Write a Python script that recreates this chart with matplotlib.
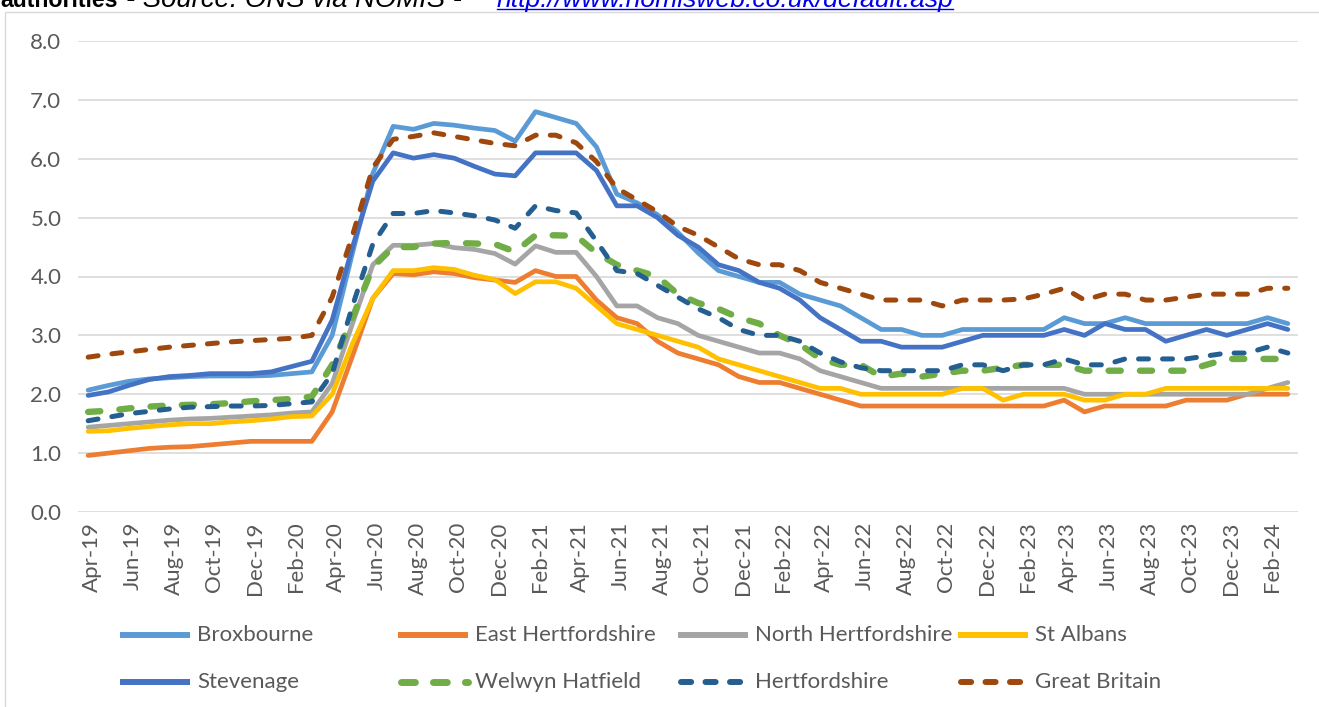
import matplotlib
matplotlib.use("Agg")
import matplotlib.pyplot as plt
import matplotlib.transforms as mtransforms
from matplotlib.lines import Line2D
from matplotlib.patches import Rectangle
import numpy as np
import pandas as pd

plt.rcParams['font.family'] = ['Lato', 'DejaVu Sans']

months = list(pd.date_range('2019-04-01', periods=60, freq='MS').strftime('%b-%y'))

broxbourne = [2.07, 2.15, 2.22, 2.26, 2.28, 2.30, 2.31, 2.31, 2.31, 2.32, 2.35, 2.38,
              3.00, 4.40, 5.75, 6.55, 6.50, 6.60, 6.57, 6.52, 6.48, 6.30, 6.80, 6.70,
              6.60, 6.20, 5.40, 5.25, 5.05, 4.75, 4.40, 4.10, 4.00, 3.90, 3.90, 3.70,
              3.60, 3.50, 3.30, 3.10, 3.10, 3.00, 3.00, 3.10, 3.10, 3.10, 3.10, 3.10,
              3.30, 3.20, 3.20, 3.30, 3.20, 3.20, 3.20, 3.20, 3.20, 3.20, 3.30, 3.20]
east_herts = [0.96, 1.00, 1.04, 1.08, 1.10, 1.11, 1.14, 1.17, 1.20, 1.20, 1.20, 1.20,
              1.70, 2.65, 3.63, 4.05, 4.03, 4.08, 4.05, 3.98, 3.94, 3.90, 4.10, 4.00,
              4.00, 3.60, 3.30, 3.20, 2.90, 2.70, 2.60, 2.50, 2.30, 2.20, 2.20, 2.10,
              2.00, 1.90, 1.80, 1.80, 1.80, 1.80, 1.80, 1.80, 1.80, 1.80, 1.80, 1.80,
              1.90, 1.70, 1.80, 1.80, 1.80, 1.80, 1.90, 1.90, 1.90, 2.00, 2.00, 2.00]
north_herts = [1.44, 1.47, 1.50, 1.53, 1.56, 1.58, 1.59, 1.61, 1.63, 1.65, 1.68, 1.70,
               2.18, 3.20, 4.20, 4.53, 4.53, 4.56, 4.49, 4.46, 4.39, 4.21, 4.52, 4.41,
               4.41, 4.00, 3.50, 3.50, 3.30, 3.20, 3.00, 2.90, 2.80, 2.70, 2.70, 2.60,
               2.40, 2.30, 2.20, 2.10, 2.10, 2.10, 2.10, 2.10, 2.10, 2.10, 2.10, 2.10,
               2.10, 2.00, 2.00, 2.00, 2.00, 2.00, 2.00, 2.00, 2.00, 2.00, 2.10, 2.20]
st_albans = [1.37, 1.38, 1.42, 1.45, 1.48, 1.50, 1.50, 1.53, 1.55, 1.58, 1.62, 1.63,
             2.00, 2.86, 3.63, 4.10, 4.10, 4.15, 4.12, 4.02, 3.95, 3.71, 3.91, 3.91,
             3.80, 3.50, 3.20, 3.10, 3.00, 2.90, 2.80, 2.60, 2.50, 2.40, 2.30, 2.20,
             2.10, 2.10, 2.00, 2.00, 2.00, 2.00, 2.00, 2.10, 2.10, 1.90, 2.00, 2.00,
             2.00, 1.90, 1.90, 2.00, 2.00, 2.10, 2.10, 2.10, 2.10, 2.10, 2.10, 2.10]
stevenage = [1.98, 2.04, 2.15, 2.25, 2.30, 2.32, 2.35, 2.35, 2.35, 2.38, 2.47, 2.56,
             3.26, 4.50, 5.62, 6.10, 6.01, 6.07, 6.01, 5.87, 5.74, 5.71, 6.10, 6.10,
             6.10, 5.80, 5.20, 5.20, 5.00, 4.70, 4.50, 4.20, 4.10, 3.90, 3.80, 3.60,
             3.30, 3.10, 2.90, 2.90, 2.80, 2.80, 2.80, 2.90, 3.00, 3.00, 3.00, 3.00,
             3.10, 3.00, 3.20, 3.10, 3.10, 2.90, 3.00, 3.10, 3.00, 3.10, 3.20, 3.10]
welwyn = [1.70, 1.72, 1.76, 1.79, 1.81, 1.82, 1.83, 1.85, 1.88, 1.90, 1.92, 1.96,
          2.50, 3.30, 4.16, 4.50, 4.50, 4.56, 4.57, 4.56, 4.55, 4.42, 4.70, 4.70,
          4.69, 4.40, 4.20, 4.10, 4.00, 3.70, 3.55, 3.45, 3.30, 3.20, 3.00, 2.85,
          2.60, 2.50, 2.50, 2.30, 2.35, 2.30, 2.35, 2.40, 2.40, 2.45, 2.50, 2.50,
          2.50, 2.40, 2.40, 2.40, 2.40, 2.40, 2.40, 2.50, 2.60, 2.60, 2.60, 2.60]
hertfordshire = [1.55, 1.61, 1.67, 1.71, 1.75, 1.78, 1.79, 1.80, 1.80, 1.81, 1.84, 1.87,
                 2.35, 3.50, 4.55, 5.07, 5.07, 5.12, 5.08, 5.03, 4.96, 4.82, 5.20, 5.12,
                 5.08, 4.60, 4.10, 4.05, 3.85, 3.65, 3.45, 3.30, 3.10, 3.00, 3.00, 2.90,
                 2.70, 2.55, 2.45, 2.40, 2.40, 2.40, 2.40, 2.50, 2.50, 2.40, 2.50, 2.50,
                 2.60, 2.50, 2.50, 2.60, 2.60, 2.60, 2.60, 2.65, 2.70, 2.70, 2.80, 2.70]
great_britain = [2.63, 2.68, 2.72, 2.76, 2.80, 2.83, 2.86, 2.89, 2.91, 2.93, 2.95, 3.00,
                 3.65, 4.70, 5.85, 6.33, 6.38, 6.44, 6.38, 6.32, 6.26, 6.22, 6.40, 6.40,
                 6.27, 5.95, 5.50, 5.30, 5.10, 4.85, 4.70, 4.50, 4.30, 4.20, 4.20, 4.10,
                 3.90, 3.80, 3.70, 3.60, 3.60, 3.60, 3.50, 3.60, 3.60, 3.60, 3.62, 3.70,
                 3.80, 3.60, 3.70, 3.70, 3.60, 3.60, 3.65, 3.70, 3.70, 3.70, 3.80, 3.80]

series_names = ['Broxbourne', 'East Hertfordshire', 'North Hertfordshire', 'St Albans',
                'Stevenage', 'Welwyn Hatfield', 'Hertfordshire', 'Great Britain']
series_values = [broxbourne, east_herts, north_herts, st_albans,
                 stevenage, welwyn, hertfordshire, great_britain]
colors = ['#5B9BD5', '#ED7D31', '#A5A5A5', '#FFC000',
          '#4472C4', '#70AD47', '#255E91', '#9E480E']
# (linewidth pt, dashes or None)
styles = [(3.4, None), (3.4, None), (3.4, None), (3.4, None),
          (3.4, None), (4.6, (1.9, 3.0)), (3.6, (2.0, 2.8)), (3.6, (2.0, 2.8))]
# legend sample styles
leg_styles = [(4.3, None), (4.3, None), (4.3, None), (4.3, None),
              (4.3, None), (5.0, (2.0, 2.6)), (4.3, (1.7, 2.4)), (4.3, (1.7, 2.4))]

W, H = 1319, 707
FS = 16
TXT = '#595959'
fig = plt.figure(figsize=(W / 100, H / 100), dpi=100)

# chart border
fig.patches.append(Rectangle((5 / W, -0.2), 2.0, (H - 12) / H + 0.2, transform=fig.transFigure,
                             fill=False, edgecolor='#D9D9D9', linewidth=1.0))

x0, x1, y0, y1 = 78, 1298, 512, 41
ax = fig.add_axes([x0 / W, (H - y0) / H, (x1 - x0) / W, (y0 - y1) / H])
ax.set_facecolor('none')
x = np.arange(len(months))
for vals, c, (lw, dash) in zip(series_values, colors, styles):
    if dash is None:
        ax.plot(x, vals, color=c, lw=lw, solid_capstyle='round', solid_joinstyle='round')
    else:
        ax.plot(x, vals, color=c, lw=lw, dashes=dash, dash_capstyle='round',
                dash_joinstyle='round')

ax.set_xlim(-0.5, len(months) - 0.5)
ax.set_ylim(0, 8)
yt = np.arange(0, 8.01, 1.0)
ax.set_yticks(yt)
ax.set_yticklabels([f'{v:.1f}' for v in yt])
ax.set_xticks(x[::2])
ax.set_xticklabels(months[::2], rotation=90)
ax.grid(axis='y', color='#D9D9D9', linewidth=1.2)
ax.set_axisbelow(True)
for s in ax.spines.values():
    s.set_visible(False)
ax.tick_params(axis='both', length=0, colors=TXT, labelsize=FS)
ax.tick_params(axis='x', pad=7)
ax.tick_params(axis='y', pad=12)
shift = mtransforms.ScaledTranslation(4 / 100, 0, fig.dpi_scale_trans)
for lab in ax.get_xticklabels():
    lab.set_transform(lab.get_transform() + shift)

# legend (manual, equal column spacing like Excel)
leg_cols = [120, 398, 678, 958]
leg_rows = [635, 682]
for k, (name, c, (lw, dash)) in enumerate(zip(series_names, colors, leg_styles)):
    r, col = divmod(k, 4)
    xs = leg_cols[col]
    yy = 1 - leg_rows[r] / H
    if dash is None:
        ln = Line2D([xs / W, (xs + 70) / W], [yy, yy], transform=fig.transFigure, color=c,
                    lw=lw, solid_capstyle='butt')
    else:
        ln = Line2D([(xs + 3) / W, (xs + 70) / W], [yy, yy], transform=fig.transFigure,
                    color=c, lw=lw, dashes=dash, dash_capstyle='round')
    fig.add_artist(ln)
    fig.text((xs + 77) / W, yy, name, fontsize=FS, color=TXT, va='center', ha='left')

# clipped header line at top (as in the source image)
renderer = fig.canvas.get_renderer()
base = 1 - 7 / H
head = [('authorities', 0, 118, dict(fontweight='bold', color='black')),
        ('- Source: ONS via NOMIS -', 126, 462, dict(style='italic', color='black')),
        ('http://www.nomisweb.co.uk/default.asp', 497, 953, dict(style='italic', color='#0000EE'))]
for txt, xa, xb, kw in head:
    t = fig.text(xa / W, base, txt, fontsize=16, va='baseline', ha='left',
                 family=['Liberation Sans', 'DejaVu Sans'], **kw)
    wpx = t.get_window_extent(renderer).width
    t.set_fontsize(16 * (xb - xa) / wpx)
fig.add_artist(Line2D([497 / W, 953 / W], [1 - 9 / H, 1 - 9 / H], transform=fig.transFigure,
                      color='#0000EE', lw=1.0))

fig.savefig('out.png', dpi=100)
